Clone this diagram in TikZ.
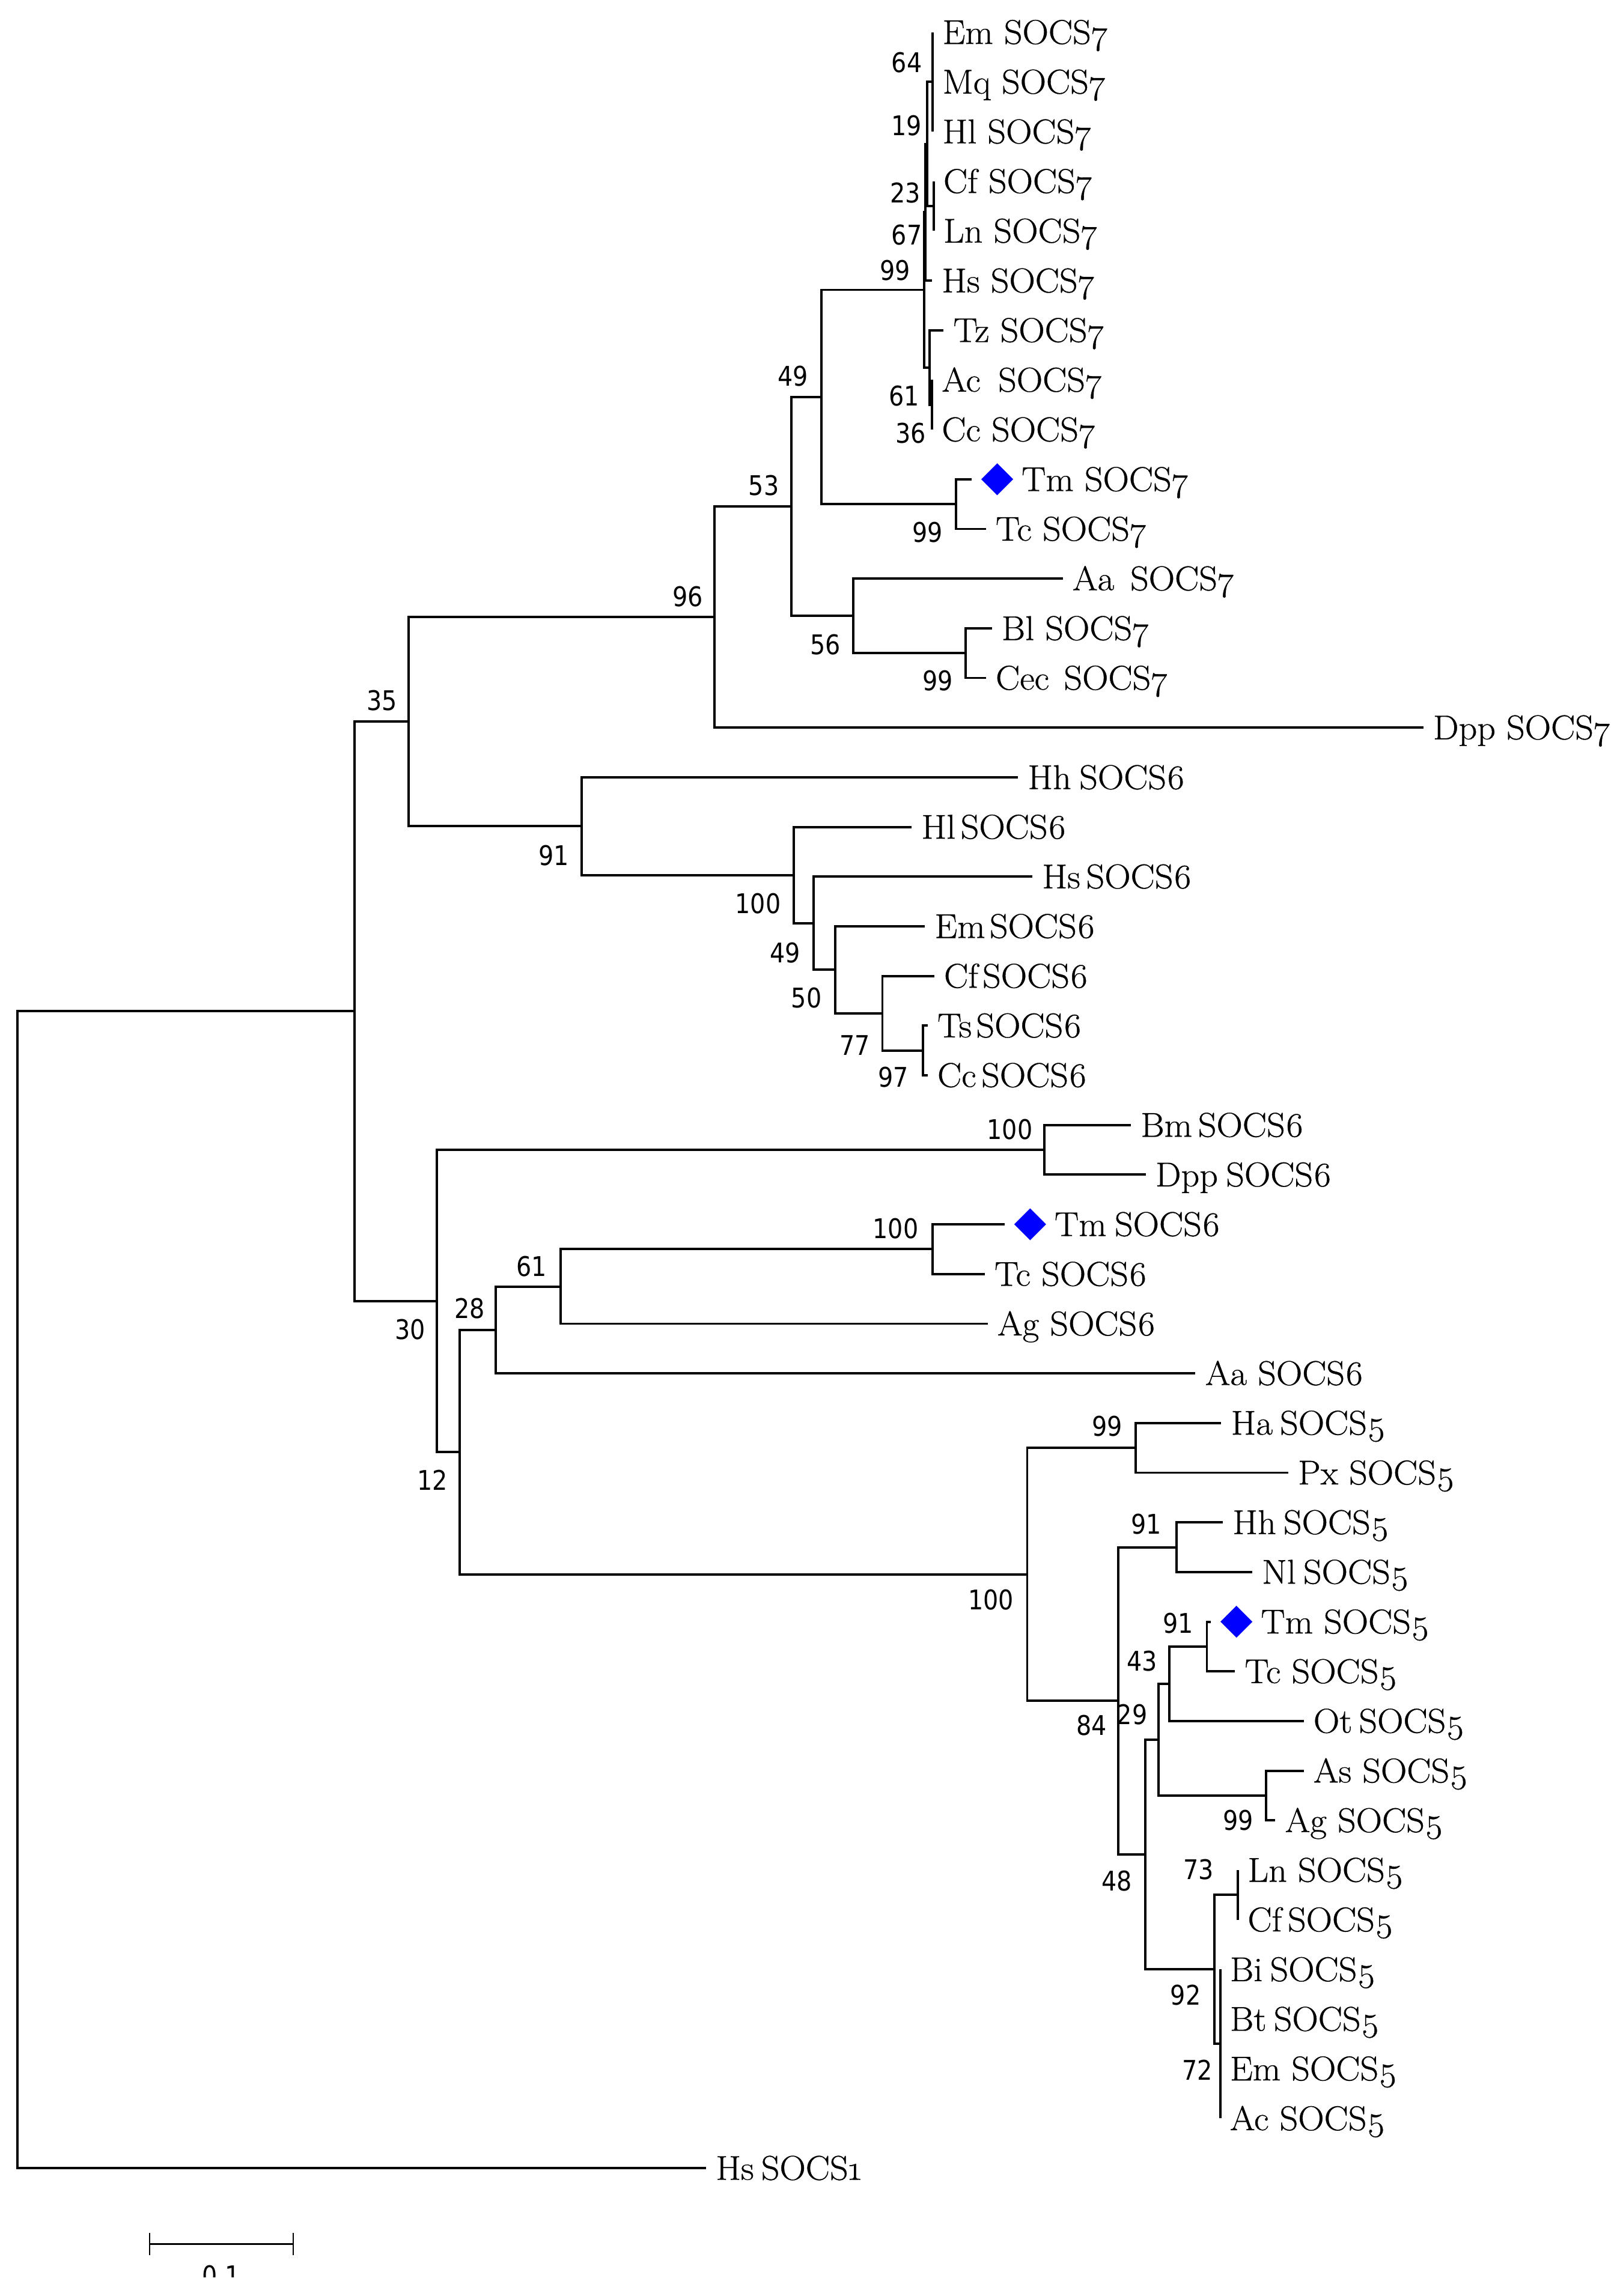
\documentclass[tikz,border=0pt]{standalone}
\usepackage{fontspec}
\usetikzlibrary{shapes.geometric}

\setmainfont{Latin Modern Roman}[FakeStretch=1.05, FakeBold=0.6]
\newfontfamily\leafosf{Latin Modern Roman}[Numbers=OldStyle, FakeStretch=1.05, FakeBold=0.6]
\newfontfamily\bootfont{DejaVu Sans}[FakeStretch=0.88]
\newcommand\leaffont{\fontsize{23.5}{28}\selectfont}
\newcommand\osf[1]{{\leafosf #1}}

\tikzset{
  branch/.style={line width=1.6pt},
  leaf/.style={anchor=west, inner xsep=6.5pt, inner ysep=0pt,
    text height=16pt, text depth=0pt, font=\leaffont},
  wordgap/.style={font={\leaffont\spaceskip=#1\relax}},
  tmleaf/.style={leaf, inner xsep=34pt},
  tmdiamond/.style={diamond, fill=blue, inner sep=0pt,
    minimum width=22pt, minimum height=22pt},
  boot/.style={anchor=east, inner sep=0pt, text height=13.5pt,
    text depth=0pt, font=\bootfont\fontsize{18.5}{22}\selectfont},
}

\begin{document}
\begin{tikzpicture}[x=1pt,y=-1pt]
  \useasboundingbox (0,0) rectangle (1106,1568.4);

  % Set up the leaves (SOCS7)
  \node[leaf] (Em7) at (637,22.0) {Em SOCS\osf{7}};
  \node[leaf] (Mq7) at (637,55.9) {Mq SOCS\osf{7}};
  \node[leaf] (Hl7) at (637,89.9) {Hl SOCS\osf{7}};
  \node[leaf] (Cf7) at (637.6,123.8) {Cf SOCS\osf{7}};
  \node[leaf] (Ln7) at (637.6,157.7) {Ln SOCS\osf{7}};
  \node[leaf] (Hs7) at (636.5,191.7) {Hs SOCS\osf{7}};
  \node[leaf] (Tz7) at (644.4,225.6) {Tz SOCS\osf{7}};
  \node[leaf, wordgap=12pt] (Ac7) at (636.5,259.5) {Ac SOCS\osf{7}};
  \node[leaf] (Cc7) at (636.5,293.4) {Cc SOCS\osf{7}};
  \node[tmleaf] (Tm7) at (663.5,327.4) {Tm SOCS\osf{7}};
  \node[leaf] (Tc7) at (673.3,361.3) {Tc SOCS\osf{7}};
  \node[leaf, wordgap=11pt] (Aa7) at (725.8,395.2) {Aa SOCS\osf{7}};
  \node[leaf] (Bl7) at (677.3,429.2) {Bl SOCS\osf{7}};
  \node[leaf, wordgap=10pt] (Cec7) at (673.3,463.1) {Cec SOCS\osf{7}};
  \node[leaf] (Dpp7) at (972,497.0) {Dpp SOCS\osf{7}};

  % Set up the leaves (SOCS6)
  \node[leaf, wordgap=5.5pt] (Hh6) at (695.2,531.0) {Hh SOCS\osf{6}};
  \node[leaf, wordgap=3.5pt] (Hl6) at (622.6,564.9) {Hl SOCS\osf{6}};
  \node[leaf, wordgap=4pt] (Hs6) at (705.1,598.8) {Hs SOCS\osf{6}};
  \node[leaf, wordgap=3pt] (Em6) at (631.6,632.7) {Em SOCS\osf{6}};
  \node[leaf, wordgap=3pt] (Cf6) at (638,666.7) {Cf SOCS\osf{6}};
  \node[leaf, wordgap=3pt] (Ts6) at (633.5,700.6) {Ts SOCS\osf{6}};
  \node[leaf, wordgap=3.5pt] (Cc6) at (633.5,734.5) {Cc SOCS\osf{6}};
  \node[leaf, wordgap=4pt] (Bm6) at (772.3,768.5) {Bm SOCS\osf{6}};
  \node[leaf, wordgap=5.5pt] (Dpp6) at (782.4,802.4) {Dpp SOCS\osf{6}};
  \node[tmleaf, wordgap=5.5pt] (Tm6) at (686,836.3) {Tm SOCS\osf{6}};
  \node[leaf] (Tc6) at (672.5,870.3) {Tc SOCS\osf{6}};
  \node[leaf] (Ag6) at (674.5,904.2) {Ag SOCS\osf{6}};
  \node[leaf] (Aa6) at (816.4,938.1) {Aa SOCS\osf{6}};

  % Set up the leaves (SOCS5 and outgroup)
  \node[leaf, wordgap=5pt] (Ha5) at (834,972.0) {Ha SOCS\osf{5}};
  \node[leaf] (Px5) at (879.7,1006.0) {Px SOCS\osf{5}};
  \node[leaf, wordgap=5pt] (Hh5) at (835.1,1039.9) {Hh SOCS\osf{5}};
  \node[leaf, wordgap=5pt] (Nl5) at (855.1,1073.8) {Nl SOCS\osf{5}};
  \node[tmleaf] (Tm5) at (826.9,1107.8) {Tm SOCS\osf{5}};
  \node[leaf] (Tc5) at (843.4,1141.7) {Tc SOCS\osf{5}};
  \node[leaf, wordgap=4.5pt] (Ot5) at (890.3,1175.6) {Ot SOCS\osf{5}};
  \node[leaf] (As5) at (890.3,1209.6) {As SOCS\osf{5}};
  \node[leaf] (Ag5) at (870.9,1243.5) {Ag SOCS\osf{5}};
  \node[leaf] (Ln5) at (845.4,1277.4) {Ln SOCS\osf{5}};
  \node[leaf, wordgap=4pt] (Cf5) at (845.4,1311.3) {Cf SOCS\osf{5}};
  \node[leaf, wordgap=5pt] (Bi5) at (833.3,1345.3) {Bi SOCS\osf{5}};
  \node[leaf, wordgap=5pt] (Bt5) at (833.3,1379.2) {Bt SOCS\osf{5}};
  \node[leaf] (Em5) at (833.3,1413.1) {Em SOCS\osf{5}};
  \node[leaf] (Ac5) at (833.3,1447.1) {Ac SOCS\osf{5}};
  \node[leaf, wordgap=5pt] (Hs1) at (482.2,1481.0) {Hs SOCS\osf{1}};

  % Mark the Tm genes
  \node[tmdiamond] (Dm7) at ([xshift=17.5pt]Tm7.west) {};
  \node[tmdiamond] (Dm6) at ([xshift=17.5pt]Tm6.west) {};
  \node[tmdiamond] (Dm5) at ([xshift=17.5pt]Tm5.west) {};

  % Inner nodes of the tree
  \coordinate (W7) at (637,55.9);
  \coordinate (CL7) at (637.6,140.75);
  \coordinate (V7) at (633,98.3);
  \coordinate (U7) at (632,145.0);
  \coordinate (X7) at (636.5,276.5);
  \coordinate (T7) at (635,251.0);
  \coordinate (R7) at (631,198.0);
  \coordinate (TT7) at (652.8,344.4);
  \coordinate (N49) at (561,271.2);
  \coordinate (BC7) at (659.6,446.1);
  \coordinate (N56) at (582.6,420.7);
  \coordinate (N53) at (540.3,345.9);
  \coordinate (N96) at (488,421.5);
  \coordinate (N97) at (630.2,717.6);
  \coordinate (N77) at (602.6,692.1);
  \coordinate (N50) at (570.4,662.4);
  \coordinate (N49b) at (555.5,630.6);
  \coordinate (N100a) at (541.9,597.8);
  \coordinate (N91) at (397.4,564.4);
  \coordinate (N35) at (279,493.0);
  \coordinate (N100b) at (713.3,785.4);
  \coordinate (N100d) at (637,853.3);
  \coordinate (N61) at (382.8,878.8);
  \coordinate (N28) at (338.5,908.4);
  \coordinate (N99c) at (775.5,989.0);
  \coordinate (N91b) at (803.4,1056.9);
  \coordinate (N91c) at (824.2,1124.7);
  \coordinate (N43) at (798.7,1150.2);
  \coordinate (N99d) at (864.5,1226.5);
  \coordinate (N29) at (791.2,1188.4);
  \coordinate (N73) at (845.4,1294.4);
  \coordinate (NB) at (833.3,1396.2);
  \coordinate (NL) at (829.2,1345.3);
  \coordinate (N48) at (782,1266.9);
  \coordinate (N84) at (763.7,1161.9);
  \coordinate (N100c) at (701.5,1075.5);
  \coordinate (N12) at (314,991.9);
  \coordinate (N30) at (298.2,888.7);
  \coordinate (NIN) at (242.2,690.8);
  \coordinate (ROOT) at (11.8,1086);

  % Add the branches
  \foreach \a/\b in {R7/U7, R7/T7, U7/V7, U7/Hs7, V7/W7, V7/CL7,
      W7/Em7, W7/Mq7, W7/Hl7, CL7/Cf7, CL7/Ln7, T7/Tz7, T7/X7,
      X7/Ac7, X7/Cc7, TT7/Tm7, TT7/Tc7, N49/R7, N49/TT7,
      BC7/Bl7, BC7/Cec7, N56/Aa7, N56/BC7, N53/N49, N53/N56,
      N96/N53, N96/Dpp7}
    \draw[branch] (\a) |- (\b);
  \foreach \a/\b in {N97/Ts6, N97/Cc6, N77/Cf6, N77/N97, N50/Em6, N50/N77,
      N49b/Hs6, N49b/N50, N100a/Hl6, N100a/N49b, N91/Hh6, N91/N100a,
      N35/N96, N35/N91, N100b/Bm6, N100b/Dpp6, N100d/Tm6, N100d/Tc6,
      N61/N100d, N61/Ag6, N28/N61, N28/Aa6}
    \draw[branch] (\a) |- (\b);
  \foreach \a/\b in {N99c/Ha5, N99c/Px5, N91b/Hh5, N91b/Nl5,
      N91c/Tm5, N91c/Tc5, N43/N91c, N43/Ot5, N99d/As5, N99d/Ag5,
      N29/N43, N29/N99d, N73/Ln5, N73/Cf5,
      NB/Bi5, NB/Bt5, NB/Em5, NB/Ac5, NL/N73, NL/NB,
      N48/N29, N48/NL, N84/N91b, N84/N48, N100c/N99c, N100c/N84,
      N12/N28, N12/N100c, N30/N100b, N30/N12,
      NIN/N35, NIN/N30, ROOT/NIN, ROOT/Hs1}
    \draw[branch] (\a) |- (\b);

  % Bootstrap values
  \foreach \v/\x/\y [count=\i] in {64/629.8/42.9, 19/629.5/85.7,
      23/628.7/131.7, 67/629.8/160.3, 99/621.9/184.5, 61/627.9/270.5,
      36/632.6/296, 49/552.2/257.1, 53/532.2/331.7, 99/643.9/363.8,
      96/480.4/407.4, 56/574.3/440.4, 99/650.9/465, 35/271.5/478.5,
      91/388.6/584.5, 100/533.4/617.4, 49/546.6/651, 50/561.3/681.7,
      77/594.4/714, 97/620.7/735.9, 100/705.3/771.4, 100/627.4/839.1,
      61/373.5/865, 28/331.2/893.8, 30/290.6/908.1, 12/306/1011.2,
      99/766.6/974, 91/793.5/1041, 100/692.4/1093, 91/815/1109,
      43/790.6/1134.5, 29/783.7/1171, 84/755.9/1178.7, 99/856.3/1243.5,
      48/773.2/1285, 73/829/1277, 92/820.2/1363, 72/828.3/1414}
    \node[boot] (bs\i) at (\x,\y) {\v};

  % Scale bar
  \coordinate (sbL) at (102.1,1532.9);
  \coordinate (sbR) at (200.3,1532.9);
  \draw[branch] (sbL) -- (sbR);
  \draw[line width=0.9pt] ([yshift=7.7pt]sbL) -- ([yshift=-7.7pt]sbL);
  \draw[line width=0.9pt] ([yshift=7.7pt]sbR) -- ([yshift=-7.7pt]sbR);
  \begin{scope}
    \clip (90,1500) rectangle (220,1555.3);
    \node[boot, anchor=north] (sblab) at (151.2,1547.7) {0.1};
  \end{scope}
\end{tikzpicture}
\end{document}
